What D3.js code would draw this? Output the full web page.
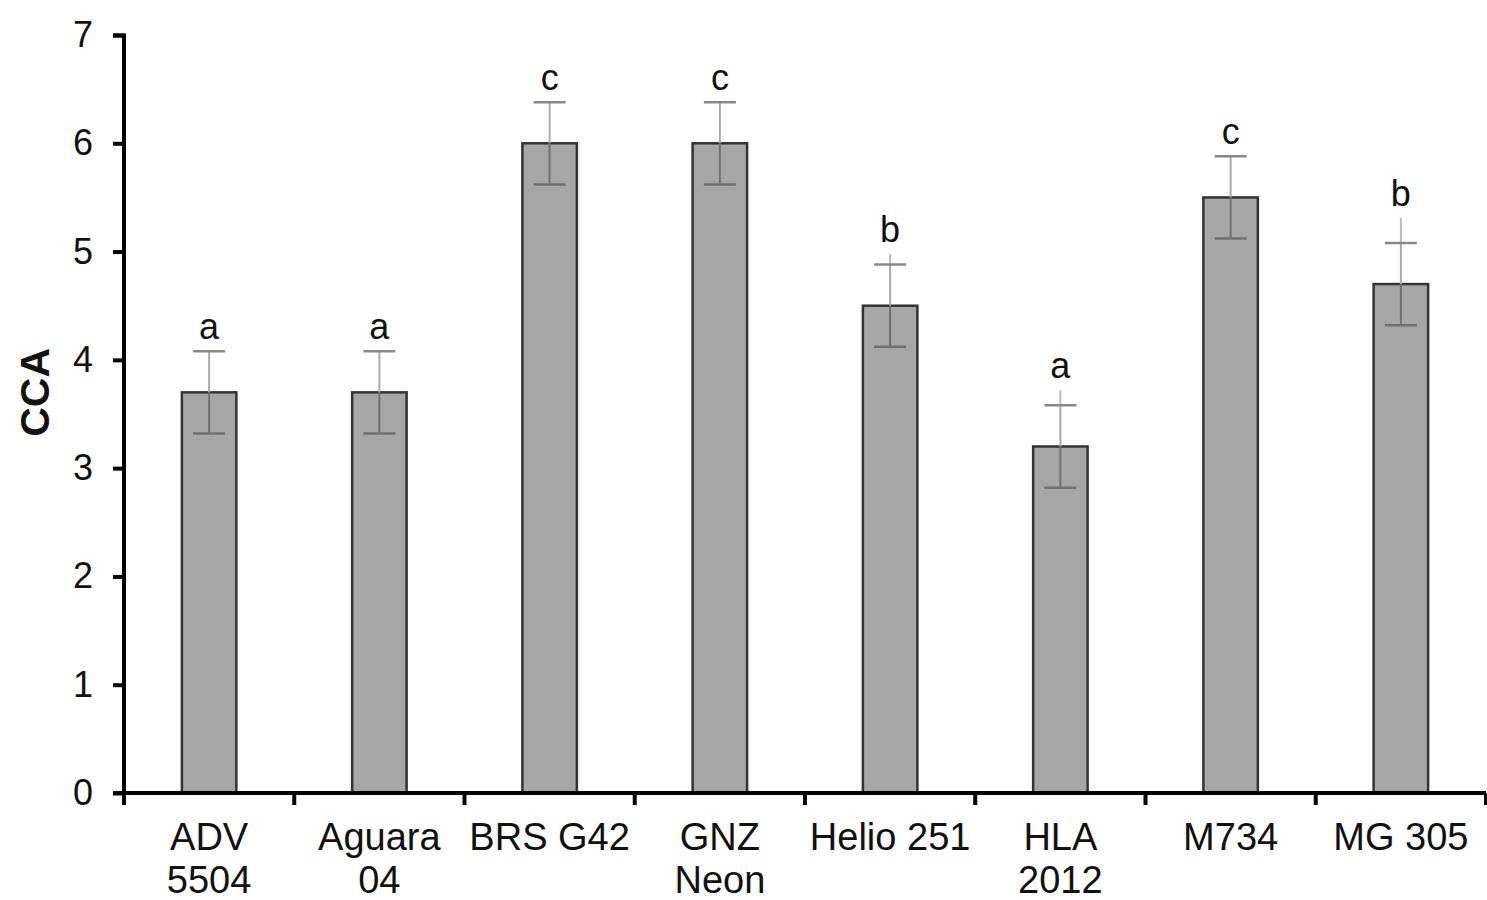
<html>
<head>
<meta charset="utf-8">
<script src="https://d3js.org/d3.v7.min.js"></script>
<style>
  body { margin: 0; background: #fff; }
  text { font-family: "Liberation Sans", Arial, sans-serif; }
</style>
</head>
<body>
<div id="chart"></div>
<script>
// cultivars, two label lines each
categories = [
    ["ADV", "5504"], ["Aguara", "04"], ["BRS G42"], ["GNZ", "Neon"],
    ["Helio 251"], ["HLA", "2012"], ["M734"], ["MG 305"]
];
values = [3.7, 3.7, 6.0, 6.0, 4.5, 3.2, 5.5, 4.7];
errors = [0.38, 0.38, 0.38, 0.38, 0.38, 0.38, 0.38, 0.38];
// faint whisker extension seen above some caps
extTop = [null, null, null, null, 4.98, 3.72, null, 5.31];
letters = ["a", "a", "c", "c", "b", "a", "c", "b"];
yTicks = [0, 1, 2, 3, 4, 5, 6, 7];

width = 1487;
height = 900;
margin = { top: 35, right: 0, bottom: 107, left: 124 };
plot_w = 1362;
plot_h = height - margin.top - margin.bottom;

svg = d3.select("#chart").append("svg")
    .attr("width", width)
    .attr("height", height);

g = svg.append("g")
    .attr("transform", `translate(${margin.left},${margin.top})`);

x = d3.scaleBand()
    .domain(d3.range(categories.length))
    .range([0, plot_w])
    .paddingInner(0.68)
    .paddingOuter(0.34);

y = d3.scaleLinear()
    .domain([0, 7])
    .range([plot_h, 0]);

// bars
g.selectAll("rect.bar")
    .data(values)
    .enter().append("rect")
        .attr("class", "bar")
        .attr("x", (d, i) => x(i))
        .attr("y", d => y(d))
        .attr("width", x.bandwidth())
        .attr("height", d => y(0) - y(d))
        .attr("fill", "#a6a6a6")
        .attr("stroke", "#333")
        .attr("stroke-width", 2.5);

cx = i => x(i) + x.bandwidth() / 2;
capW = 16;

// whisker extensions (lighter)
g.selectAll("line.ext")
    .data(extTop.map((d, i) => ({ d: d, i: i })).filter(o => o.d != null))
    .enter().append("line")
        .attr("x1", o => cx(o.i)).attr("x2", o => cx(o.i))
        .attr("y1", o => y(o.d))
        .attr("y2", o => y(values[o.i] + errors[o.i]))
        .attr("stroke", "#bbb").attr("stroke-width", 2);

// upper part of error bar (above bar, lighter)
g.selectAll("line.up")
    .data(values)
    .enter().append("line")
        .attr("x1", (d, i) => cx(i)).attr("x2", (d, i) => cx(i))
        .attr("y1", (d, i) => y(d + errors[i]))
        .attr("y2", d => y(d))
        .attr("stroke", "#aaa").attr("stroke-width", 2);

// lower part (inside bar, darker)
g.selectAll("line.down")
    .data(values)
    .enter().append("line")
        .attr("x1", (d, i) => cx(i)).attr("x2", (d, i) => cx(i))
        .attr("y1", d => y(d))
        .attr("y2", (d, i) => y(d - errors[i]))
        .attr("stroke", "#707070").attr("stroke-width", 2);

// caps
[1, -1].forEach(function(s) {
    g.selectAll("line.cap" + s)
        .data(values)
        .enter().append("line")
            .attr("x1", (d, i) => cx(i) - capW).attr("x2", (d, i) => cx(i) + capW)
            .attr("y1", (d, i) => y(d + s * errors[i]))
            .attr("y2", (d, i) => y(d + s * errors[i]))
            .attr("stroke", s > 0 ? "#888" : "#707070").attr("stroke-width", 2.5);
});

// significance letters
g.selectAll("text.letter")
    .data(letters)
    .enter().append("text")
        .attr("x", (d, i) => cx(i))
        .attr("y", (d, i) => {
            top_v = Math.max(values[i] + errors[i], extTop[i] || 0);
            return y(top_v) - 12;
        })
        .attr("text-anchor", "middle")
        .attr("font-size", 36)
        .attr("fill", "#111")
        .text(d => d);

// y axis
yAxis = g.append("g")
    .call(d3.axisLeft(y).tickValues(yTicks).tickSize(11).tickPadding(20).tickFormat(d3.format("d")));
yAxis.select(".domain").attr("stroke", "#000").attr("stroke-width", 4)
    .attr("d", `M-11,0.5H0V${plot_h}`);
yAxis.selectAll(".tick line").attr("stroke", "#000").attr("stroke-width", 4);
yAxis.selectAll(".tick text").attr("font-size", 36).attr("fill", "#111")
    .style("font-family", "'Liberation Sans', Arial, sans-serif");

// x axis: ticks at band boundaries
xAxisG = g.append("g").attr("transform", `translate(0,${plot_h})`);
xAxisG.append("line")
    .attr("x1", -11).attr("x2", plot_w)
    .attr("y1", 0).attr("y2", 0)
    .attr("stroke", "#000").attr("stroke-width", 4);
xb = d3.scaleLinear().domain([0, categories.length]).range([0, plot_w]);
xAxisG.selectAll("line.tk")
    .data(d3.range(categories.length + 1))
    .enter().append("line")
        .attr("x1", d => xb(d)).attr("x2", d => xb(d))
        .attr("y1", 0).attr("y2", 12)
        .attr("stroke", "#000").attr("stroke-width", 4);

labels = xAxisG.selectAll("text.cat")
    .data(categories)
    .enter().append("text")
        .attr("text-anchor", "middle")
        .attr("font-size", 38)
        .attr("fill", "#111")
        .attr("x", (d, i) => cx(i))
        .attr("y", 57);
labels.selectAll("tspan")
    .data(d => d)
    .enter().append("tspan")
        .attr("x", function() { return this.parentNode.getAttribute("x"); })
        .attr("dy", (d, j) => j == 0 ? 0 : 43)
        .text(d => d);

// y title
svg.append("text")
    .attr("transform", `translate(49,${margin.top + y(3.7)}) rotate(-90)`)
    .attr("text-anchor", "middle")
    .attr("font-size", 41)
    .attr("font-weight", "bold")
    .attr("fill", "#111")
    .text("CCA");
</script>
</body>
</html>
